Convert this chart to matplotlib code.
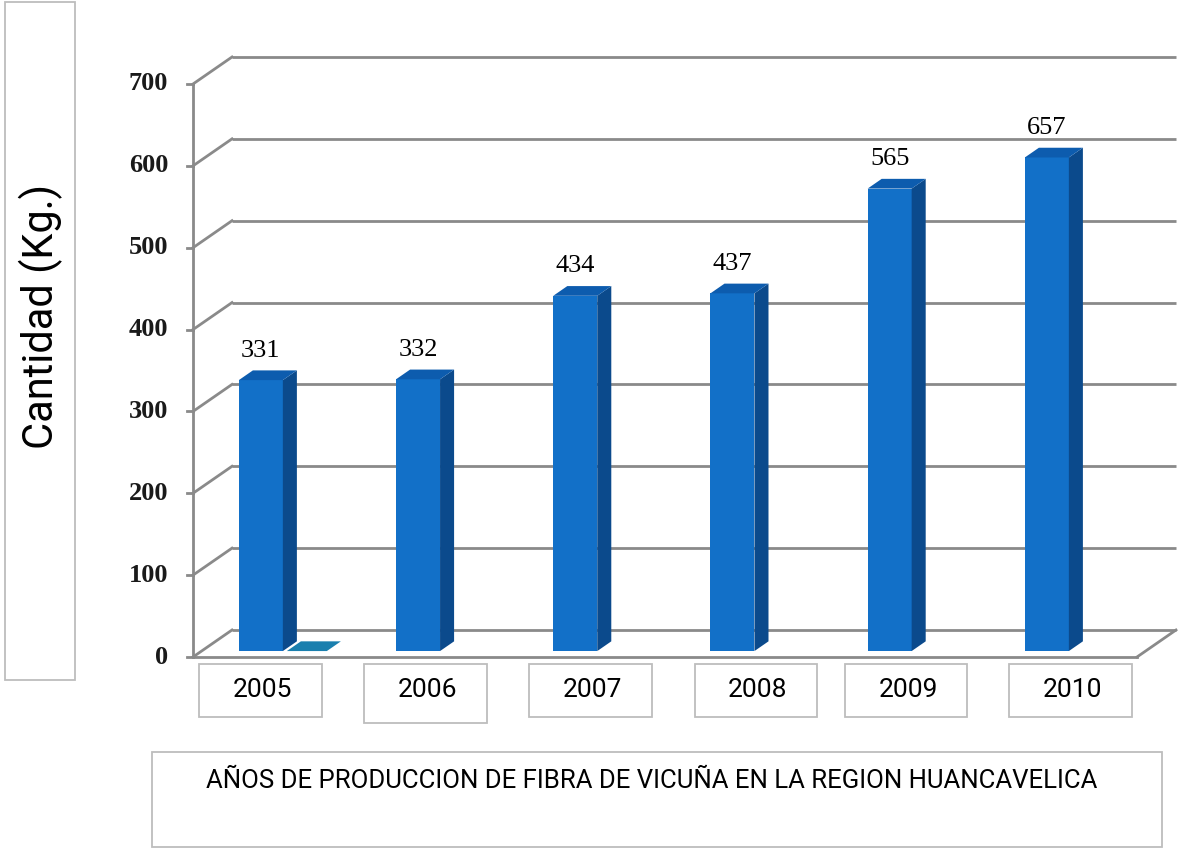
import matplotlib
matplotlib.use('Agg')
import matplotlib.pyplot as plt
from matplotlib.patches import Polygon, Rectangle

# data
years = ['2005', '2006', '2007', '2008', '2009', '2010']
bar_labels = ['331', '332', '434', '437', '565', '657']
bar_heights = [331, 332, 434, 437, 565, 603]   # 2010 bar is drawn shorter than its label
serie2_2005 = 0                               # flat second-series bar next to 2005
yticks = [0, 100, 200, 300, 400, 500, 600, 700]
ylabel = 'Cantidad (Kg.)'
xtitle = 'AÑOS DE PRODUCCION DE FIBRA DE VICUÑA EN LA REGION HUANCAVELICA'

W, H = 1184, 851
fig = plt.figure(figsize=(W / 100, H / 100), dpi=100)
fig.patch.set_facecolor('white')

sans = ['Roboto', 'DejaVu Sans']
serif = ['Liberation Serif', 'DejaVu Serif']

# front plane of the 3d box
xl, xr = -0.377, 5.628
ax = fig.add_axes([193 / W, 194 / H, 944 / W, 573 / H])
ax.set_xlim(xl, xr)
ax.set_ylim(0, 700)
ax.axis('off')

px = (xr - xl) / 944
py = 700 / 573
DX, DY = 39 * px, 27 * py          # full depth of the box
grid_c = '#8a8a8a'
lw = 2.0

for v in yticks:
    ax.plot([xl + DX, xr + DX], [v + DY, v + DY], color=grid_c, lw=lw, clip_on=False, solid_capstyle='butt')
    ax.plot([xl, xl + DX], [v, v + DY], color=grid_c, lw=lw, clip_on=False)
    ax.plot([xl - 6 * px, xl], [v, v], color=grid_c, lw=lw, clip_on=False)
    ax.text(xl - 25 * px, v, str(v), ha='right', va='center', fontsize=19,
            fontweight='bold', family=serif, color='#1a1a1a')
ax.plot([xl, xl], [0, 700], color=grid_c, lw=lw, clip_on=False)
ax.plot([xl, xr], [0, 0], color=grid_c, lw=lw, clip_on=False)
ax.plot([xr, xr + DX], [0, DY], color=grid_c, lw=lw, clip_on=False)

# bars
d0 = 0.22                 # depth where bars stand
dd = 0.36                 # bar depth
bw = 44 * px
ox, oy = d0 * DX, d0 * DY
sx, sy = dd * DX, dd * DY
front_c, side_c, top_c = '#1270c8', '#0b4a8c', '#0d5cae'

xs = [i + ox for i in range(len(years))]
ax.bar(xs, bar_heights, width=bw, bottom=oy, color=front_c, edgecolor='none', zorder=3)
for x, h, lab in zip(xs, bar_heights, bar_labels):
    x0, x1, top = x - bw / 2, x + bw / 2, oy + h
    ax.add_patch(Polygon([(x1, oy), (x1, top), (x1 + sx, top + sy), (x1 + sx, oy + sy)],
                         closed=True, color=side_c, lw=0, zorder=3))
    ax.add_patch(Polygon([(x0, top), (x1, top), (x1 + sx, top + sy), (x0 + sx, top + sy)],
                         closed=True, color=top_c, lw=0, zorder=3))
    ax.text(x, top + 36, lab, ha='center', va='center', fontsize=19, family=serif, color='black')

# flat second-series bar beside 2005
x2 = xs[0] + 46 * px
b0, b1 = x2 - 40 * px / 2, x2 + 40 * px / 2
t2 = oy + serie2_2005
ax.add_patch(Polygon([(b0, t2), (b1, t2), (b1 + sx, t2 + sy), (b0 + sx, t2 + sy)],
                     closed=True, color='#1a7fae', lw=0, zorder=3))

# boxes in pixel space
def box(x0, y0, x1, y1):
    fig.add_artist(Rectangle((x0 / W, 1 - y1 / H), (x1 - x0) / W, (y1 - y0) / H,
                             transform=fig.transFigure, fill=False, ec='#bdbdbd', lw=1.3))

box_left = [199, 364, 529, 695, 845, 1009]
box_right = [322, 487, 652, 817, 967, 1132]
box_bottom = [717, 723, 717, 717, 717, 717]
for yr, a, b, c in zip(years, box_left, box_right, box_bottom):
    box(a, 664, b, c)
    fig.text((a + b) / 2 / W + 2 / W, 1 - 690 / H, yr, ha='center', va='center',
             fontsize=19, family=sans, color='black')

box(152, 752, 1162, 847)
fig.text(652 / W, 1 - 781 / H, xtitle, ha='center', va='center', fontsize=18.5, family=sans, color='black')

box(5, 2, 75, 680)
fig.text(41 / W, 1 - 316 / H, ylabel, ha='center', va='center', rotation=90,
         fontsize=30, family=sans, color='black')

fig.savefig('out.png', dpi=100, facecolor='white')
